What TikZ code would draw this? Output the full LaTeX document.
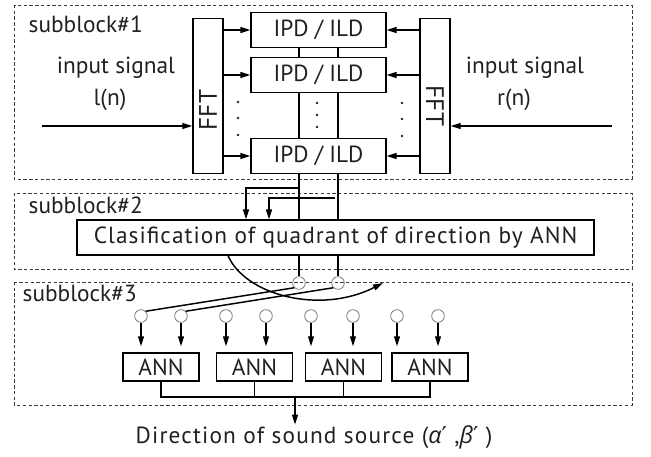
\documentclass[tikz,border=0pt]{standalone}
\usepackage{fontspec}
\setmainfont{PT Sans}
\newfontfamily\grkfont{Open Sans}
\newfontfamily\symfont{DejaVu Sans}
\usetikzlibrary{arrows.meta,positioning,calc}
\definecolor{sb-text}{HTML}{231F20}
\definecolor{sb-ring}{HTML}{7A7A7A}
\definecolor{sb-dash}{HTML}{3A3A3A}

\begin{document}
\begin{tikzpicture}[
    x=0.75pt, y=-0.75pt,
    font=\fontsize{17.5}{20}\selectfont,
    >={Triangle[length=7.5pt,width=4.5pt]},
    line width=1.1pt
  ]

  % Styles for the three subblocks
  \tikzset{
    subblk/.style={draw=sb-dash, line width=0.6pt, dash pattern=on 2.5pt off 1.8pt},
    tag/.style={inner sep=0pt, anchor=west, text=sb-text},
    fftbox/.style={draw, minimum width=22.5pt, minimum height=116pt, inner sep=0pt},
    ipd/.style={draw, minimum width=101pt, minimum height=26pt, inner sep=0pt, text=sb-text},
    ann/.style={draw, minimum width=57pt, minimum height=21pt, inner sep=0pt, text=sb-text},
    ring/.style={circle, draw=sb-ring, line width=0.6pt, minimum size=9.5pt, inner sep=0pt},
    wide/.style={font=\fontsize{17.5}{20}\selectfont\addfontfeature{LetterSpace=#1}}
  }

  \useasboundingbox (0,0) rectangle (651,457);

  % Dashed frames
  \draw[subblk] (14,5) rectangle (632,179);
  \draw[subblk] (14,193) rectangle (632,269);
  \draw[subblk] (14,282) rectangle (632,405);

  \node (sb1) [tag] at (28,24) {subblock\#1};
  \node (sb2) [tag] at (28,205) {subblock\#2};
  \node (sb3) [tag] at (22,293) {subblock\#3};

  % Subblock 1: FFT and IPD / ILD
  \node (fftL) [fftbox] at (208,96) {};
  \node (fftR) [fftbox] at (435,96) {};
  \node (fftLt) [rotate=90, text=sb-text, font=\fontsize{19}{20}\selectfont] at (208,110) {FFT};
  \node (fftRt) [rotate=-90, text=sb-text, font=\fontsize{19}{20}\selectfont] at (435,106) {FFT};

  \node (ipd1) [ipd] at (318.5,30) {IPD / ILD};
  \node (ipd2) [ipd] at (318.5,75) {IPD / ILD};
  \node (ipd3) [ipd] at (318.5,156) {IPD / ILD};

  \coordinate (vl) at (299,0);
  \coordinate (vr) at (338,0);

  \foreach \b in {ipd1,ipd2,ipd3}{
    \draw[->] (fftL.east |- \b.west) -- (\b.west);
    \draw[->] (fftR.west |- \b.east) -- (\b.east);
  }
  \draw (ipd1.south -| vl) -- (ipd2.north -| vl);
  \draw (ipd1.south -| vr) -- (ipd2.north -| vr);
  \draw (ipd2.south -| vl) -- (ipd3.north -| vl);
  \draw (ipd2.south -| vr) -- (ipd3.north -| vr);

  % vertical dots
  \foreach \x/\y in {238/102,238/118,238/135,317/103,317/115,317/127,402/103,402/119,402/136}
    \fill[sb-text] (\x,\y) circle (1.1pt);

  \node (inLt) [text=sb-text] at (116,68) {input signal};
  \node (inLn) [text=sb-text] at (110,100) {l(n)};
  \node (inRt) [text=sb-text] at (525,68) {input signal};
  \node (inRn) [text=sb-text] at (514,100) {r(n)};
  \coordinate (inL) at (42,126);
  \coordinate (inR) at (612,126);
  \draw[->] (inL) -- (inL -| fftL.west);
  \draw[->] (inR) -- (inR -| fftR.east);

  % Subblock 2: quadrant classification
  \node (cls) [draw, wide=4.5, minimum width=388pt, minimum height=26pt, inner sep=0pt, text=sb-text]
    at (335.5,237.5) {Clasification of quadrant of direction by ANN};

  \draw (ipd3.south -| vl) -- (cls.north -| vl);
  \draw (ipd3.south -| vr) -- (cls.north -| vr);

  \coordinate (a1) at (299,188);
  \coordinate (a2) at (335,198);
  \coordinate (t1) at (246,0);
  \coordinate (t2) at (269,0);
  \draw[->] (a1) -| (t1 |- cls.north);
  \draw[->] (a2) -| (t2 |- cls.north);

  % Subblock 3: one ANN per quadrant
  \node (u1) [ring] at (299,283) {};
  \node (u2) [ring] at (338,283) {};
  \draw (cls.south -| vl) -- (u1.north);
  \draw (cls.south -| vr) -- (u2.north);

  \coordinate (c0) at (228,0);
  \coordinate (cend) at (383,283);
  \draw[->] (c0 |- cls.south) .. controls (245,295) and (320,315) .. (cend);

  \foreach \i/\x in {1/141,2/181,3/226,4/266,5/311,6/353,7/397,8/438}
    \node (d\i) [ring] at (\x,316) {};

  \draw (u1.-135) -- (d1.45);
  \draw (u2.-135) -- (d2.45);

  \node (ann1) [ann] at (161,367) {ANN};
  \node (ann2) [ann] at (254.5,367) {ANN};
  \node (ann3) [ann] at (343.5,367) {ANN};
  \node (ann4) [ann] at (430,367) {ANN};

  \foreach \i/\a in {1/ann1,2/ann1,3/ann2,4/ann2,5/ann3,6/ann3,7/ann4,8/ann4}
    \draw[->, shorten >=4.5pt] (d\i.south) -- (d\i |- \a.north);

  \coordinate (j) at (295,397);
  \draw (ann1.south) -- (ann1.south |- j) -- (ann4.south |- j) -- (ann4.south);
  \draw (ann2.south) -- (ann2.south |- j);
  \draw (ann3.south) -- (ann3.south |- j);

  \node (dir) [wide=5, text=sb-text, inner sep=0pt] at (314,437)
    {Direction of sound source ({\grkfont\itshape α}{\symfont ′} ,{\grkfont\itshape β}{\symfont ′} )};
  \draw[->] (j) -- (j |- dir.north);

\end{tikzpicture}
\end{document}
